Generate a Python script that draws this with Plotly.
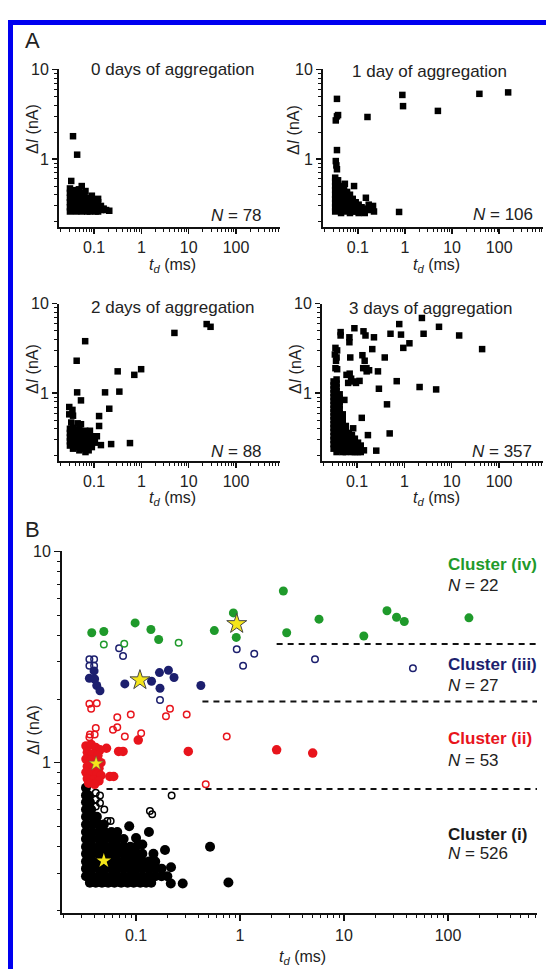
import plotly.graph_objects as go

W, H = 546, 969

# ---------------- Panel A data : (t_d [ms], dI [nA]) ----------------
day0_pts = [
    (0.036, 1.80), (0.044, 1.12), (0.033, 0.57), (0.055, 0.50),
    (0.031, 0.47), (0.031, 0.42), (0.031, 0.37), (0.031, 0.33), (0.031, 0.29), (0.031, 0.26),
    (0.036, 0.45), (0.036, 0.40), (0.036, 0.35), (0.036, 0.31), (0.036, 0.27),
    (0.042, 0.43), (0.042, 0.38), (0.042, 0.34), (0.042, 0.30), (0.042, 0.26),
    (0.048, 0.46), (0.048, 0.41), (0.048, 0.36), (0.048, 0.32), (0.048, 0.28),
    (0.055, 0.42), (0.055, 0.37), (0.055, 0.33), (0.055, 0.29), (0.055, 0.26),
    (0.063, 0.39), (0.063, 0.35), (0.063, 0.31), (0.063, 0.27),
    (0.072, 0.36), (0.072, 0.32), (0.072, 0.28), (0.072, 0.26),
    (0.082, 0.37), (0.082, 0.33), (0.082, 0.29), (0.082, 0.26),
    (0.094, 0.34), (0.094, 0.30), (0.094, 0.27),
    (0.108, 0.31), (0.108, 0.28), (0.108, 0.26),
    (0.122, 0.36), (0.122, 0.33), (0.122, 0.29), (0.122, 0.26),
    (0.14, 0.30), (0.14, 0.27), (0.16, 0.28), (0.18, 0.27), (0.21, 0.265),
    (0.066, 0.44), (0.09, 0.39),
]

day1_pts = [
    (0.036, 4.7), (0.036, 3.0), (0.038, 3.1), (0.034, 2.7), (0.036, 1.26),
    (0.034, 0.95), (0.035, 0.85), (0.036, 0.77),
    (0.16, 2.95), (0.88, 5.2), (0.91, 3.9), (5.0, 3.45), (38, 5.35), (155, 5.55), (0.75, 0.257),
    (0.053, 0.53), (0.083, 0.50), (0.148, 0.37),
    (0.033, 0.62), (0.033, 0.56), (0.033, 0.50), (0.033, 0.45), (0.033, 0.40), (0.033, 0.36),
    (0.033, 0.32), (0.033, 0.29), (0.033, 0.26),
    (0.038, 0.58), (0.038, 0.52), (0.038, 0.47), (0.038, 0.42), (0.038, 0.38), (0.038, 0.34),
    (0.038, 0.30), (0.038, 0.27),
    (0.044, 0.50), (0.044, 0.45), (0.044, 0.40), (0.044, 0.36), (0.044, 0.32), (0.044, 0.28), (0.044, 0.25),
    (0.051, 0.46), (0.051, 0.41), (0.051, 0.37), (0.051, 0.33), (0.051, 0.29), (0.051, 0.26),
    (0.059, 0.43), (0.059, 0.38), (0.059, 0.34), (0.059, 0.30), (0.059, 0.27),
    (0.068, 0.40), (0.068, 0.35), (0.068, 0.31), (0.068, 0.28), (0.068, 0.25),
    (0.078, 0.36), (0.078, 0.32), (0.078, 0.29), (0.078, 0.26),
    (0.09, 0.33), (0.09, 0.29), (0.09, 0.26),
    (0.104, 0.31), (0.104, 0.28), (0.104, 0.25),
    (0.12, 0.29), (0.12, 0.26), (0.14, 0.28), (0.14, 0.25), (0.17, 0.31), (0.19, 0.27),
    (0.21, 0.30), (0.22, 0.26),
]

day2_pts = [
    (0.065, 3.8), (0.043, 2.3), (0.044, 1.02), (0.053, 0.83), (0.171, 1.02), (0.343, 1.04),
    (0.316, 1.75), (0.71, 1.6), (0.99, 1.85), (0.21, 0.67), (0.128, 0.555), (0.128, 0.43),
    (0.14, 0.263), (0.23, 0.27), (0.575, 0.277), (5.0, 4.7), (24, 5.9), (29, 5.5),
    (0.030, 0.70), (0.035, 0.65), (0.030, 0.58), (0.036, 0.56), (0.033, 0.47), (0.045, 0.46),
    (0.053, 0.45), (0.065, 0.38), (0.082, 0.38),
    (0.031, 0.40), (0.031, 0.36), (0.031, 0.32), (0.031, 0.29), (0.031, 0.26),
    (0.036, 0.41), (0.036, 0.37), (0.036, 0.33), (0.036, 0.30), (0.036, 0.27), (0.036, 0.24),
    (0.042, 0.39), (0.042, 0.35), (0.042, 0.31), (0.042, 0.28), (0.042, 0.25),
    (0.049, 0.40), (0.049, 0.36), (0.049, 0.32), (0.049, 0.29), (0.049, 0.26), (0.049, 0.23),
    (0.057, 0.37), (0.057, 0.33), (0.057, 0.30), (0.057, 0.27), (0.057, 0.24),
    (0.066, 0.35), (0.066, 0.31), (0.066, 0.28), (0.066, 0.25), (0.066, 0.22),
    (0.077, 0.36), (0.077, 0.32), (0.077, 0.29), (0.077, 0.26), (0.077, 0.23),
    (0.09, 0.33), (0.09, 0.30), (0.09, 0.27), (0.09, 0.25),
    (0.104, 0.31), (0.104, 0.28), (0.115, 0.33),
]

day3_pts = [
    (2.35, 6.9), (5.4, 5.5), (0.78, 5.9), (0.85, 4.5), (0.51, 4.6), (2.55, 4.6), (14.4, 4.4),
    (44, 3.1), (1.28, 3.6), (0.95, 3.2), (0.385, 2.5), (0.69, 1.36), (0.29, 1.12), (2.1, 1.17),
    (4.7, 1.1), (0.43, 0.75), (0.49, 0.355), (0.126, 0.53), (0.255, 0.228), (0.17, 0.34),
    (0.088, 5.3), (0.137, 4.9), (0.151, 4.4), (0.228, 4.2), (0.069, 4.2), (0.069, 3.7),
    (0.045, 4.8), (0.045, 4.4), (0.072, 2.5), (0.13, 2.65), (0.145, 2.3), (0.158, 1.9),
    (0.135, 1.9), (0.16, 1.75), (0.18, 1.8), (0.21, 3.1), (0.277, 1.75),
    (0.035, 3.2), (0.038, 3.0), (0.034, 2.7), (0.037, 2.5), (0.036, 2.3), (0.035, 1.9), (0.038, 1.85),
    (0.06, 1.6), (0.07, 1.65), (0.075, 1.45), (0.085, 1.35), (0.095, 1.3), (0.113, 1.37), (0.065, 1.3),
    (0.054, 0.84), (0.083, 0.405),
    (0.032, 0.24), (0.032, 0.27), (0.032, 0.30), (0.032, 0.33), (0.032, 0.37), (0.032, 0.41),
    (0.032, 0.45), (0.032, 0.50), (0.032, 0.55), (0.032, 0.61), (0.032, 0.67), (0.032, 0.74),
    (0.032, 0.82), (0.032, 0.90), (0.032, 1.0), (0.032, 1.1), (0.032, 1.22), (0.032, 1.35),
    (0.037, 0.22), (0.037, 0.25), (0.037, 0.28), (0.037, 0.31), (0.037, 0.35), (0.037, 0.39),
    (0.037, 0.43), (0.037, 0.48), (0.037, 0.53), (0.037, 0.58), (0.037, 0.64), (0.037, 0.71),
    (0.037, 0.78), (0.037, 0.86), (0.037, 0.95), (0.037, 1.05), (0.037, 1.16), (0.037, 1.28), (0.037, 1.42),
    (0.043, 0.23), (0.043, 0.26), (0.043, 0.29), (0.043, 0.32), (0.043, 0.36), (0.043, 0.40),
    (0.043, 0.44), (0.043, 0.49), (0.043, 0.54), (0.043, 0.60), (0.043, 0.66), (0.043, 0.73),
    (0.043, 0.80), (0.043, 0.88), (0.043, 0.97),
    (0.05, 0.22), (0.05, 0.25), (0.05, 0.28), (0.05, 0.31), (0.05, 0.34), (0.05, 0.38),
    (0.05, 0.42), (0.05, 0.47), (0.05, 0.52), (0.05, 0.58),
    (0.058, 0.22), (0.058, 0.25), (0.058, 0.28), (0.058, 0.31), (0.058, 0.35), (0.058, 0.39), (0.058, 0.43),
    (0.067, 0.23), (0.067, 0.26), (0.067, 0.29), (0.067, 0.32), (0.067, 0.36),
    (0.078, 0.22), (0.078, 0.25), (0.078, 0.28), (0.078, 0.31), (0.078, 0.34),
    (0.09, 0.22), (0.09, 0.25), (0.09, 0.28), (0.09, 0.31),
    (0.105, 0.22), (0.105, 0.25), (0.105, 0.28), (0.12, 0.22), (0.12, 0.26), (0.14, 0.23),
]

panelA_titles = ["0 days of aggregation", "1 day of aggregation",
                 "2 days of aggregation", "3 days of aggregation"]
panelA_counts = [78, 106, 88, 357]

# ---------------- Panel B data ----------------
green_filled = [(0.0375, 4.12), (0.049, 4.18), (0.098, 4.59), (0.139, 4.27), (0.165, 3.83),
                (0.566, 4.22), (0.863, 5.12), (0.92, 3.92), (2.61, 6.5), (2.81, 4.12),
                (5.75, 4.78), (15.5, 3.98), (25.9, 5.24), (32, 4.88), (38, 4.66), (159, 4.85)]
green_open = [(0.049, 3.63), (0.077, 3.66), (0.257, 3.70)]
green_star = [(0.93, 4.54)]

blue_filled = [(0.0356, 2.51), (0.0395, 2.72), (0.040, 2.49), (0.0419, 2.32), (0.045, 2.19),
               (0.078, 2.36), (0.141, 2.43), (0.168, 2.67), (0.170, 2.25), (0.205, 2.74),
               (0.232, 2.53), (0.42, 2.32)]
blue_open = [(0.0356, 3.09), (0.0395, 3.09), (0.0356, 2.88), (0.0395, 2.88), (0.0687, 3.48),
             (0.075, 3.2), (0.17, 1.98), (0.93, 3.44), (1.07, 2.88), (1.37, 3.28), (5.26, 3.09),
             (46, 2.8)]
blue_star = [(0.109, 2.46)]

red_filled = [(0.105, 1.28), (0.052, 1.17), (0.068, 1.13), (0.075, 1.13), (0.056, 0.86),
              (0.061, 0.86), (0.318, 1.13), (2.25, 1.15), (5.0, 1.11),
              (0.033, 1.20), (0.037, 1.22), (0.041, 1.18), (0.045, 1.15), (0.034, 1.12),
              (0.038, 1.10), (0.043, 1.08), (0.033, 1.04), (0.037, 1.03), (0.042, 1.02),
              (0.046, 1.0), (0.034, 0.96), (0.039, 0.95), (0.044, 0.94), (0.033, 0.90),
              (0.037, 0.89), (0.042, 0.88), (0.046, 0.87), (0.034, 0.84), (0.039, 0.83),
              (0.044, 0.82), (0.035, 0.80), (0.040, 0.79)]
red_open = [(0.0356, 1.90), (0.0419, 1.91), (0.037, 1.80), (0.066, 1.64), (0.089, 1.69),
            (0.066, 1.47), (0.060, 1.43), (0.041, 1.46), (0.036, 1.36), (0.040, 1.36),
            (0.078, 1.33), (0.112, 1.38), (0.194, 1.66), (0.212, 1.80), (0.307, 1.69),
            (0.745, 1.33), (0.0356, 1.32), (0.468, 0.79)]
red_star = [(0.0413, 0.99)]

black_filled = [
    (0.036, 0.27), (0.041, 0.27), (0.047, 0.27), (0.054, 0.27), (0.062, 0.27), (0.072, 0.27),
    (0.083, 0.27), (0.095, 0.27), (0.11, 0.27), (0.125, 0.27), (0.14, 0.27),
    (0.033, 0.29), (0.038, 0.29), (0.044, 0.29), (0.05, 0.29), (0.058, 0.29), (0.066, 0.29),
    (0.076, 0.29), (0.088, 0.29), (0.10, 0.29), (0.115, 0.29), (0.133, 0.29), (0.153, 0.29),
    (0.176, 0.29), (0.20, 0.29),
    (0.033, 0.315), (0.038, 0.315), (0.044, 0.315), (0.05, 0.315), (0.058, 0.315), (0.066, 0.315),
    (0.076, 0.315), (0.088, 0.315), (0.10, 0.315), (0.115, 0.315), (0.133, 0.315), (0.153, 0.315),
    (0.176, 0.315),
    (0.033, 0.34), (0.038, 0.34), (0.044, 0.34), (0.05, 0.34), (0.058, 0.34), (0.066, 0.34),
    (0.076, 0.34), (0.088, 0.34), (0.10, 0.34), (0.115, 0.34), (0.133, 0.34), (0.153, 0.34),
    (0.033, 0.37), (0.038, 0.37), (0.044, 0.37), (0.05, 0.37), (0.058, 0.37), (0.066, 0.37),
    (0.076, 0.37), (0.088, 0.37), (0.10, 0.37), (0.115, 0.37), (0.147, 0.37),
    (0.033, 0.40), (0.038, 0.40), (0.044, 0.40), (0.05, 0.40), (0.058, 0.40), (0.066, 0.40),
    (0.076, 0.40), (0.088, 0.40), (0.10, 0.40), (0.115, 0.41),
    (0.033, 0.435), (0.038, 0.435), (0.044, 0.435), (0.05, 0.435), (0.058, 0.435), (0.066, 0.435),
    (0.076, 0.435), (0.10, 0.44),
    (0.033, 0.47), (0.038, 0.47), (0.044, 0.47), (0.05, 0.47), (0.058, 0.47), (0.066, 0.47),
    (0.133, 0.47),
    (0.033, 0.51), (0.038, 0.51), (0.044, 0.51), (0.049, 0.51), (0.086, 0.50),
    (0.033, 0.555), (0.038, 0.555), (0.042, 0.555),
    (0.033, 0.60), (0.037, 0.60),
    (0.033, 0.65), (0.036, 0.65),
    (0.033, 0.70), (0.035, 0.70),
    (0.033, 0.76),
    (0.19, 0.386), (0.217, 0.32), (0.216, 0.268), (0.281, 0.268), (0.515, 0.40), (0.773, 0.271),
]
black_open = [(0.041, 0.72), (0.045, 0.70), (0.041, 0.67), (0.045, 0.645), (0.041, 0.62),
              (0.0495, 0.60), (0.053, 0.53), (0.057, 0.53), (0.136, 0.59), (0.143, 0.57),
              (0.22, 0.70)]
black_star = [(0.049, 0.343)]

# cluster boundaries (dashed lines): level, start t_d
boundary_levels = [0.75, 1.95, 3.65]
boundary_starts = [0.052, 0.435, 2.25]
boundary_end = 718

cluster_names = ["Cluster (iv)", "Cluster (iii)", "Cluster (ii)", "Cluster (i)"]
cluster_counts = [22, 27, 53, 526]

# ---------------- styling / layout ----------------
GREEN = "#1f9a2b"
NAVY = "#1c1f6e"
RED = "#e8141c"
BLACK = "#000000"
TXT = "#222222"
FONT = "Liberation Sans, Arial, sans-serif"


def px_x(p):
    return p / W


def px_y(p):
    return 1 - p / H


def xy(pts):
    return [p[0] for p in pts], [p[1] for p in pts]


fig = go.Figure()

minor_x = [k * 10 ** e for e in range(-2, 3) for k in range(2, 10)]
minor_y = [k * 10 ** e for e in range(-1, 1) for k in range(2, 10)]


def axis_style(domain, rng, tickvals, ticktext, minorvals, anchor):
    return dict(
        type="log", domain=domain, range=rng, anchor=anchor,
        showline=True, linecolor="#111", linewidth=2,
        ticks="outside", ticklen=5, tickwidth=1.5, tickcolor="#111",
        tickmode="array", tickvals=tickvals, ticktext=ticktext,
        minor=dict(tickmode="array", tickvals=minorvals, ticks="outside",
                   ticklen=3, tickwidth=1, tickcolor="#111", showgrid=False),
        showgrid=False, zeroline=False, fixedrange=True,
        tickfont=dict(size=16, color=TXT, family=FONT),
    )


# Panel A geometry (pixels)
A_boxes = [
    (59, 280, 62, 221),
    (323, 543, 62, 221),
    (59, 280, 298, 457),
    (322, 543, 298, 457),
]
A_data = [day0_pts, day1_pts, day2_pts, day3_pts]
A_xrange = [-1.74, 2.93]
A_yrange = [-0.76, 1.0]

layout_axes = {}
for i, (box, pts) in enumerate(zip(A_boxes, A_data)):
    n = i + 1
    xname = "x" if n == 1 else f"x{n}"
    yname = "y" if n == 1 else f"y{n}"
    xk = "xaxis" if n == 1 else f"xaxis{n}"
    yk = "yaxis" if n == 1 else f"yaxis{n}"
    x0, x1, yt, yb = box
    layout_axes[xk] = axis_style([px_x(x0), px_x(x1)], A_xrange, [0.1, 1, 10, 100],
                                 ["0.1", "1", "10", "100"], minor_x, yname)
    layout_axes[yk] = axis_style([px_y(yb), px_y(yt)], A_yrange, [1, 10], ["1", "10"],
                                 minor_y, xname)
    tx, ty = xy(pts)
    fig.add_trace(go.Scatter(x=tx, y=ty, mode="markers", xaxis=xname, yaxis=yname,
                             marker=dict(symbol="square", size=6.5, color=BLACK,
                                         line=dict(width=0)),
                             showlegend=False, hoverinfo="skip", cliponaxis=False))

# Panel B axes
B_box = (62, 537, 548, 913)
layout_axes["xaxis5"] = axis_style([px_x(B_box[0]), px_x(B_box[1])], [-1.712, 2.856],
                                   [0.1, 1, 10, 100], ["0.1", "1", "10", "100"], minor_x, "y5")
layout_axes["yaxis5"] = axis_style([px_y(B_box[3]), px_y(B_box[2])], [-0.714, 1.0],
                                   [1, 10], ["1", "10"], minor_y, "x5")
layout_axes["xaxis5"]["ticklen"] = 6
layout_axes["yaxis5"]["ticklen"] = 6


def addB(pts, symbol, size, color, lw=0, lcolor=None):
    tx, ty = xy(pts)
    fig.add_trace(go.Scatter(
        x=tx, y=ty, mode="markers", xaxis="x5", yaxis="y5",
        marker=dict(symbol=symbol, size=size, color=color,
                    line=dict(width=lw, color=lcolor or color)),
        showlegend=False, hoverinfo="skip", cliponaxis=False))


# dashed boundaries
for lvl, st in zip(boundary_levels, boundary_starts):
    fig.add_trace(go.Scatter(x=[st, boundary_end], y=[lvl, lvl], mode="lines",
                             xaxis="x5", yaxis="y5",
                             line=dict(color="#111", width=2, dash="6px,5px"),
                             showlegend=False, hoverinfo="skip"))

addB(black_filled, "circle", 10, BLACK)
addB(black_open, "circle-open", 6.5, BLACK, lw=1.5)
addB(red_filled, "circle", 9.5, RED)
addB(red_open, "circle-open", 6.5, RED, lw=1.5)
addB(blue_filled, "circle", 9, NAVY)
addB(blue_open, "circle-open", 6.5, NAVY, lw=1.5)
addB(green_filled, "circle", 9, GREEN)
addB(green_open, "circle-open", 6.5, GREEN, lw=1.5)
addB(black_star, "star", 11, "#f5e61a", lw=0)
addB(red_star, "star", 11, "#f5e61a", lw=0.5, lcolor="#555")
addB(blue_star, "star", 15, "#f5e61a", lw=1, lcolor="#444")
addB(green_star, "star", 15, "#f5e61a", lw=1, lcolor="#444")

# ---------------- annotations ----------------
anns = []


def ann(text, x, y, size=16, color=TXT, xanchor="center", yanchor="middle", angle=0):
    anns.append(dict(text=text, x=px_x(x), y=px_y(y), xref="paper", yref="paper",
                     showarrow=False, xanchor=xanchor, yanchor=yanchor, textangle=angle,
                     font=dict(size=size, color=color, family=FONT)))


ann("A", 32, 33, size=22)
ann("B", 32, 526, size=22)

title_pos = [(173, 62), (429, 64), (173, 302), (431, 303)]
for t, (x, y) in zip(panelA_titles, title_pos):
    ann(t, x, y, size=17)

count_pos = [(264, 209), (535, 208), (264, 447), (534, 447)]
for c, (x, y) in zip(panelA_counts, count_pos):
    ann(f"<i>N</i> = {c}", x, y, size=17, xanchor="right")

xt = "<i>t</i><sub><i>d</i></sub> (ms)"
yt = "Δ<i>I</i> (nA)"
for (x, y) in [(172, 260), (436, 260), (172, 495), (436, 495), (302, 957)]:
    ann(xt, x, y, size=16)
for (x, y) in [(33, 122), (294, 123), (33, 364), (296, 364), (34, 728)]:
    ann(yt, x, y, size=16, angle=-90)

cl_colors = [GREEN, NAVY, RED, "#1a1a1a"]
cl_y = [(561, 582), (662, 683), (737, 759), (833, 853)]
for name, cnt, col, (y1, y2) in zip(cluster_names, cluster_counts, cl_colors, cl_y):
    ann(f"<b>{name}</b>", 446, y1, size=17, color=col, xanchor="left")
    ann(f"<i>N</i> = {cnt}", 446, y2, size=17, color=TXT, xanchor="left")

# blue frame (left and top edges visible)
shapes = [
    dict(type="line", xref="paper", yref="paper", x0=px_x(10.5), x1=px_x(10.5),
         y0=-0.05, y1=px_y(12), line=dict(color="#0000f0", width=5)),
    dict(type="line", xref="paper", yref="paper", x0=px_x(8), x1=1.05,
         y0=px_y(14.5), y1=px_y(14.5), line=dict(color="#0000f0", width=5)),
]

fig.update_layout(
    width=W, height=H, margin=dict(l=0, r=0, t=0, b=0),
    paper_bgcolor="white", plot_bgcolor="rgba(0,0,0,0)",
    font=dict(family=FONT, color=TXT),
    showlegend=False, annotations=anns, shapes=shapes,
    **layout_axes,
)

fig.write_html(
    "out.html",
    config={"displayModeBar": False, "staticPlot": True},
    post_script=("document.documentElement.style.margin='0';"
                 "document.body.style.margin='0';"
                 "document.body.style.padding='0';"
                 "document.body.style.overflow='hidden';"),
)
